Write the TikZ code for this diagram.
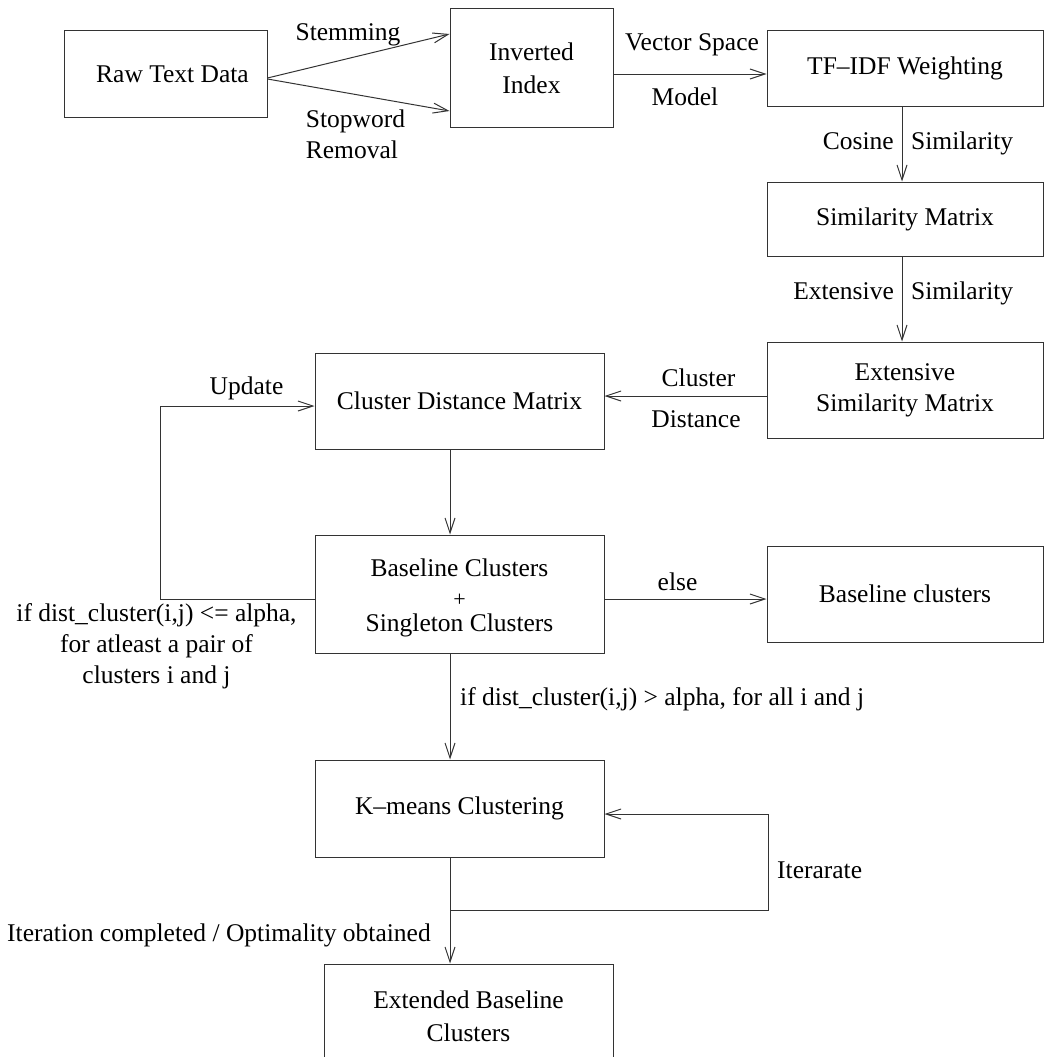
\documentclass[tikz,border=0pt]{standalone}
\usepackage{fontspec}
\setmainfont{Liberation Serif}
\usetikzlibrary{arrows.meta}
\newcommand{\fs}{\fontsize{25.5}{31}\selectfont}
\tikzset{
  box/.style={draw=black!80, line width=1pt, rectangle, inner sep=0pt, align=center, font=\fs},
  lbl/.style={inner sep=0pt, align=center, font=\fs},
  conn/.style={draw=black!80, line width=1pt, -{Straight Barb[length=15pt,width=10pt,line width=1pt]}},
  plainline/.style={draw=black!80, line width=1pt}
}
\begin{document}
\begin{tikzpicture}[x=1pt,y=-1pt]
\useasboundingbox (0,0) rectangle (1045,1057);
\clip (0,0) rectangle (1045,1057);
% boxes
\node[box, minimum width=203pt, minimum height=86pt] (raw) at (165.5,74) {\hspace*{14pt}Raw Text Data};
\node[box, minimum width=163pt, minimum height=118pt] (inv) at (531.5,68) {Inverted\\[2pt]Index};
\node[box, minimum width=276pt, minimum height=75pt] (tfidf) at (905,68.5) {TF–IDF Weighting};
\node[box, minimum width=276pt, minimum height=74pt] (sim) at (905,219) {Similarity Matrix};
\node[box, minimum width=276pt, minimum height=96pt] (esm) at (905,390) {Extensive\\Similarity Matrix};
\node[box, minimum width=289pt, minimum height=96pt] (cdm) at (459.5,401) {Cluster Distance Matrix};
\node[box, minimum width=289pt, minimum height=118pt] (base) at (459.5,594) {};
\node[lbl] (basetxt) at (459.5,598) {Baseline Clusters\\[24pt]Singleton Clusters};
\node[lbl, font=\fontsize{22}{22}\selectfont] (plus) at (459.5,600) {+};
\node[box, minimum width=276pt, minimum height=96pt] (bc) at (905,594) {Baseline clusters};
\node[box, minimum width=289pt, minimum height=97pt] (km) at (459.5,808.5) {K–means Clustering};
\node[box, minimum width=289pt, minimum height=104pt] (ext) at (468.5,1016) {Extended Baseline\\[2pt]Clusters};
% connectors
\draw[conn] ([yshift=-4pt]raw.east) -- ([yshift=34pt]inv.west);
\draw[conn] ([yshift=-5pt]raw.east) -- ([yshift=-43pt]inv.west);
\draw[conn] ([yshift=-6pt]inv.east) -- ([yshift=-5.5pt]tfidf.west);
\draw[conn] ([xshift=-3pt]tfidf.south) -- ([xshift=-3pt]sim.north);
\draw[conn] ([xshift=-3pt]sim.south) -- ([xshift=-3pt]esm.north);
\draw[conn] ([yshift=-6pt]esm.west) -- ([yshift=5pt]cdm.east);
\draw[conn] ([xshift=-9.5pt]cdm.south) -- ([xshift=-9.5pt]base.north);
\draw[conn] ([yshift=-5pt]base.west) -- ++(-154pt,0) |- ([yshift=-5pt]cdm.west);
\draw[conn] ([yshift=-5pt]base.east) -- ([yshift=-5pt]bc.west);
\draw[conn] ([xshift=-9.5pt]base.south) -- ([xshift=-9.5pt]km.north);
\coordinate (j) at (450,910);
\coordinate (itr) at (768,910);
\draw[conn] ([xshift=-9.5pt]km.south) -- ([xshift=-18.5pt]ext.north);
\draw[conn] (j) -- (itr) |- ([yshift=-5.5pt]km.east);
% labels
\node[lbl] (lstem) at (348,35) {Stemming};
\node[lbl, align=left] (lstop) at (355.5,134) {Stopword\\Removal};
\node[lbl] (lvs) at (692,45) {Vector Space};
\node[lbl] (lmodel) at (685,97) {Model};
\node[lbl, anchor=base east] (lcos) at (894,149) {Cosine};
\node[lbl, anchor=base west] (lsim1) at (911,149) {Similarity};
\node[lbl, anchor=base east] (lext) at (894,299) {Extensive};
\node[lbl, anchor=base west] (lsim2) at (911,299) {Similarity};
\node[lbl] (lcl) at (698.5,378) {Cluster};
\node[lbl] (ldist) at (696,419) {Distance};
\node[lbl] (lupd) at (246.5,388) {Update};
\node[lbl] (lelse) at (677.5,582) {else};
\node[lbl] (lleft) at (156.5,646) {if dist\_cluster(i,j) <= alpha,\\for atleast a pair of\\clusters i and j};
\node[lbl, anchor=west] (lcond) at (460,699) {if dist\_cluster(i,j) > alpha, for all i and j};
\node[lbl, anchor=west] (liter) at (777,870) {Iterarate};
\node[lbl, anchor=west] (ldone) at (7,935) {Iteration completed / Optimality obtained};
\end{tikzpicture}
\end{document}
